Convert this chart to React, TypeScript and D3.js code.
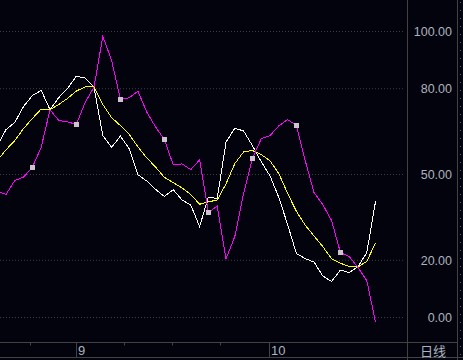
import React from "react";
import * as d3 from "d3";

// K line (white)
const kValues = [60.1, 65.7, 68.2, 73.8, 77.6, 79.4, 72.7, 76.9, 80.1, 84.4, 83.7, 80.5, 63.6, 59.5, 63.4, 59.0, 49.9, 47.7, 44.8, 42.3, 44.7, 41.1, 39.3, 31.8, 42.1, 41.6, 61.3, 66.2, 65.2, 60.1, 54.5, 49.5, 42.0, 32.5, 22.4, 20.6, 19.4, 14.5, 12.6, 16.6, 15.7, 17.8, 22.7, 40.7];
// D line (yellow)
const dValues = [54.9, 58.6, 61.9, 66.1, 69.6, 72.9, 72.7, 74.5, 76.6, 79.2, 80.6, 80.6, 74.5, 69.9, 67.1, 64.0, 59.6, 55.8, 52.6, 49.0, 47.2, 45.3, 43.0, 39.6, 40.4, 41.1, 46.7, 53.8, 57.9, 58.4, 57.0, 54.8, 50.3, 43.4, 37.1, 32.3, 28.5, 24.8, 20.5, 19.0, 17.8, 17.7, 19.6, 26.2];
// third line (magenta)
const jValues = [44.2, 43.0, 47.9, 49.1, 52.6, 59.5, 72.6, 68.9, 68.4, 67.5, 75.3, 80.5, 98.3, 89.9, 76.3, 76.8, 79.1, 71.8, 66.6, 62.2, 53.4, 53.7, 51.7, 55.1, 36.8, 38.9, 20.5, 28.3, 43.4, 55.6, 62.5, 63.6, 67.0, 69.2, 67.2, 54.9, 43.7, 39.5, 33.9, 22.7, 21.3, 17.5, 12.9, -1.7];

const yTicks = [0, 20, 50, 80, 100];
const yTickLabels = ["0.00", "20.00", "50.00", "80.00", "100.00"];
const minorTicks = [3.76, 14.44, 19.9, 25.35];
const monthTicks = [9, 30.85];
const monthLabels = ["9", "10"];
const periodLabel = "日线";

const W = 463;
const H = 360;
const BG = "#03030d";
const LINE = "#424242";
const TEXT = "#aab2bf";

export default function App() {
  const n = kValues.length;
  const x = d3.scaleLinear().domain([0, n - 1]).range([-2.8, 375.6]);
  const y = d3.scaleLinear().domain([0, 100]).range([317.5, 31.5]);
  const line = d3
    .line<number>()
    .x((_, i) => x(i))
    .y((v) => y(v));

  const plotRight = 407;
  const panelRight = 457;
  const axisY = 342.5;

  return (
    <svg
      width={W}
      height={H}
      style={{ position: "fixed", left: 0, top: 0, display: "block" }}
      fontFamily="'Liberation Sans', Arial, sans-serif"
    >
      <rect x={0} y={0} width={W} height={H} fill={BG} />
      <defs>
        <clipPath id="plot">
          <rect x={0} y={0} width={plotRight} height={axisY} />
        </clipPath>
      </defs>
      {/* grid */}
      {yTicks.map((t) => (
        <line
          key={"g" + t}
          x1={0}
          x2={plotRight - 2}
          y1={y(t)}
          y2={y(t)}
          stroke="#3d3d3d"
          strokeDasharray="1 2"
        />
      ))}
      {/* lines */}
      <g clipPath="url(#plot)" fill="none" strokeWidth={1} shapeRendering="crispEdges">
        <path d={line(kValues) || ""} stroke="#ffffff" />
        <path d={line(dValues) || ""} stroke="#ffff00" />
        <path d={line(jValues) || ""} stroke="#ff00ff" />
        {jValues.map((v, i) =>
          i % 5 === 4 ? (
            <rect
              key={"m" + i}
              x={Math.round(x(i) - 2.5)}
              y={Math.round(y(v) - 2.5)}
              width={5}
              height={5}
              fill="#cfc3cf"
            />
          ) : null
        )}
      </g>
      {/* panel separators */}
      <line x1={plotRight + 0.5} x2={plotRight + 0.5} y1={0} y2={H} stroke={LINE} />
      <line x1={panelRight + 0.5} x2={panelRight + 0.5} y1={0} y2={H} stroke={LINE} />
      <line x1={460.5} x2={460.5} y1={2} y2={H} stroke="#2a6aa8" strokeDasharray="1 7" />
      {/* y labels */}
      {yTicks.map((t, i) => (
        <text
          key={"l" + t}
          x={452}
          y={y(t)}
          dy="0.36em"
          textAnchor="end"
          fontSize={12.5}
          fill={TEXT}
        >
          {yTickLabels[i]}
        </text>
      ))}
      {/* bottom axis */}
      <line x1={0} x2={panelRight} y1={axisY} y2={axisY} stroke={LINE} />
      <line x1={0} x2={W} y1={357.5} y2={357.5} stroke={LINE} />
      {minorTicks.map((t) => (
        <line
          key={"t" + t}
          x1={Math.round(x(t)) + 0.5}
          x2={Math.round(x(t)) + 0.5}
          y1={axisY}
          y2={axisY + 3}
          stroke={LINE}
        />
      ))}
      {monthTicks.map((t, i) => (
        <g key={"mt" + t}>
          <line
            x1={Math.round(x(t)) + 0.5}
            x2={Math.round(x(t)) + 0.5}
            y1={axisY}
            y2={357.5}
            stroke={LINE}
          />
          <text x={Math.round(x(t)) + 2} y={355} fontSize={13} fill={TEXT}>
            {monthLabels[i]}
          </text>
        </g>
      ))}
      <text
        x={(plotRight + panelRight) / 2 + 1}
        y={355.5}
        textAnchor="middle"
        fontSize={13}
        fill={TEXT}
        fontFamily="'Noto Sans CJK SC', sans-serif"
      >
        {periodLabel}
      </text>
    </svg>
  );
}
